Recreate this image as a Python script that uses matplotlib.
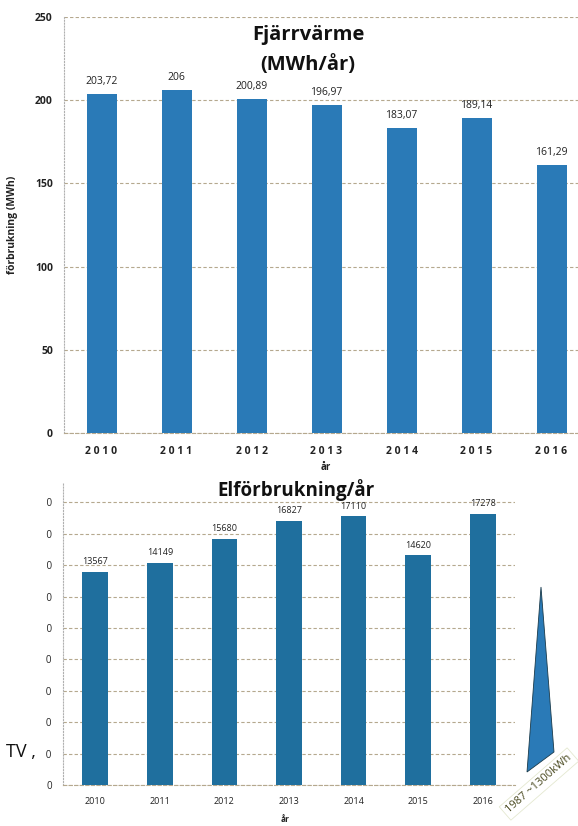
import matplotlib
matplotlib.use("Agg")
import matplotlib.pyplot as plt
from matplotlib.patches import Rectangle, Polygon

plt.rcParams['font.family'] = ['Open Sans', 'DejaVu Sans']

years = [2010, 2011, 2012, 2013, 2014, 2015, 2016]
fjarr_values = [203.72, 206.0, 200.89, 196.97, 183.07, 189.14, 161.29]
fjarr_labels = ["203,72", "206", "200,89", "196,97", "183,07", "189,14", "161,29"]
fjarr_yticks = [0, 50, 100, 150, 200, 250]
el_values = [13567, 14149, 15680, 16827, 17110, 14620, 17278]
el_yticks = [0, 2000, 4000, 6000, 8000, 10000, 12000, 14000, 16000, 18000]

W, H = 578, 826
fig = plt.figure(figsize=(W / 100, H / 100), dpi=100)
fig.patch.set_facecolor('white')

def fx(px):
    return px / W

def fy(py):
    return 1 - py / H

grid_col = '#b5a88e'
spine_col = '#b0b0b0'
text_col = '#222222'

# ---------------- Top chart ----------------
ax1 = fig.add_axes([fx(64), fy(433), 525 / W, (433 - 17) / H])
x = list(range(len(years)))
ax1.bar(x, fjarr_values, width=0.4, color='#2a7ab7', zorder=3)
ax1.set_xlim(-0.5, len(years) - 0.5)
ax1.set_ylim(0, 250)
ax1.set_yticks(fjarr_yticks)
ax1.set_yticklabels([str(v) for v in fjarr_yticks], fontsize=7.5, fontweight='bold', color=text_col)
ax1.set_xticks(x)
ax1.set_xticklabels([" ".join(str(y)) for y in years], fontsize=7.5, fontweight='bold', color=text_col)
ax1.tick_params(axis='y', length=0, pad=8)
ax1.tick_params(axis='x', length=0, pad=9)
ax1.yaxis.grid(True, color=grid_col, linestyle=(0, (3, 2)), linewidth=0.8, zorder=0)
for s in ['top', 'right']:
    ax1.spines[s].set_visible(False)
ax1.spines['left'].set_color(spine_col)
ax1.spines['left'].set_linestyle(':')
ax1.spines['bottom'].set_color(grid_col)
ax1.spines['bottom'].set_linestyle((0, (3, 2)))
for xi, v, lab in zip(x, fjarr_values, fjarr_labels):
    ax1.annotate(lab, (xi, v), xytext=(0, 5), textcoords='offset points',
                 ha='center', va='bottom', fontsize=7.5, color=text_col)
ax1.set_ylabel('förbrukning (MWh)', fontsize=7.5, fontweight='bold', color=text_col)
ax1.yaxis.set_label_coords(-46 / 525, 0.5)
fig.text(fx(326), fy(468), 'år', fontsize=7, fontweight='bold', ha='center', va='center', color=text_col)
fig.text(fx(308), fy(35), 'Fjärrvärme', fontsize=14.5, fontweight='bold', ha='center', va='center', color='#111111')
fig.text(fx(308), fy(65), '(MWh/år)', fontsize=14.5, fontweight='bold', ha='center', va='center', color='#111111')

# ---------------- Bottom chart ----------------
ax2 = fig.add_axes([fx(63), fy(785), 452 / W, (785 - 482) / H])
ax2.bar(x, el_values, width=0.4, color='#1f6f9e', zorder=3)
ax2.set_xlim(-0.5, len(years) - 0.5)
ax2.set_ylim(0, 19300)
ax2.set_yticks(el_yticks)
ax2.set_yticklabels([str(v) for v in el_yticks], fontsize=7, color=text_col)
ax2.set_xticks(x)
ax2.set_xticklabels([str(y) for y in years], fontsize=6.5, color=text_col)
ax2.tick_params(axis='y', length=0, pad=8)
ax2.tick_params(axis='x', length=0, pad=9)
ax2.yaxis.grid(True, color=grid_col, linestyle=(0, (3, 2)), linewidth=0.8, zorder=0)
for s in ['top', 'right']:
    ax2.spines[s].set_visible(False)
ax2.spines['left'].set_color(spine_col)
ax2.spines['left'].set_linestyle(':')
ax2.spines['bottom'].set_color(grid_col)
ax2.spines['bottom'].set_linestyle((0, (3, 2)))
for xi, v in zip(x, el_values):
    ax2.annotate(str(v), (xi, v), xytext=(0, 4), textcoords='offset points',
                 ha='center', va='bottom', fontsize=6.5, color=text_col)
fig.text(fx(285), fy(819), 'år', fontsize=6, fontweight='bold', ha='center', va='center', color=text_col)
fig.text(fx(296), fy(490), 'Elförbrukning/år', fontsize=13.5, fontweight='bold', ha='center', va='center', color='#111111')

# crop mask on left of bottom y tick labels
fig.patches.append(Rectangle((0, fy(800)), fx(45.5), fy(478) - fy(800), transform=fig.transFigure,
                             facecolor='white', edgecolor='none', zorder=5))
fig.text(fx(6), fy(752), 'TV ,', fontsize=13, ha='left', va='center', color='#111111', zorder=6)

# triangle annotation
tri = [(fx(541), fy(587)), (fx(527), fy(772)), (fx(554), fy(752))]
fig.patches.append(Polygon(tri, closed=True, transform=fig.transFigure,
                           facecolor='#2a7ab7', edgecolor='#1a3a4a', linewidth=0.6, zorder=6))
fig.text(fx(539), fy(784), '1987 ~1300kWh', fontsize=8, rotation=41, rotation_mode='anchor',
         ha='center', va='center', color='#4a4a20', zorder=7,
         bbox=dict(boxstyle='square,pad=0.3', facecolor='white', edgecolor='#e4e8d0', linewidth=0.6))

fig.savefig('out.png', dpi=100, facecolor='white')
